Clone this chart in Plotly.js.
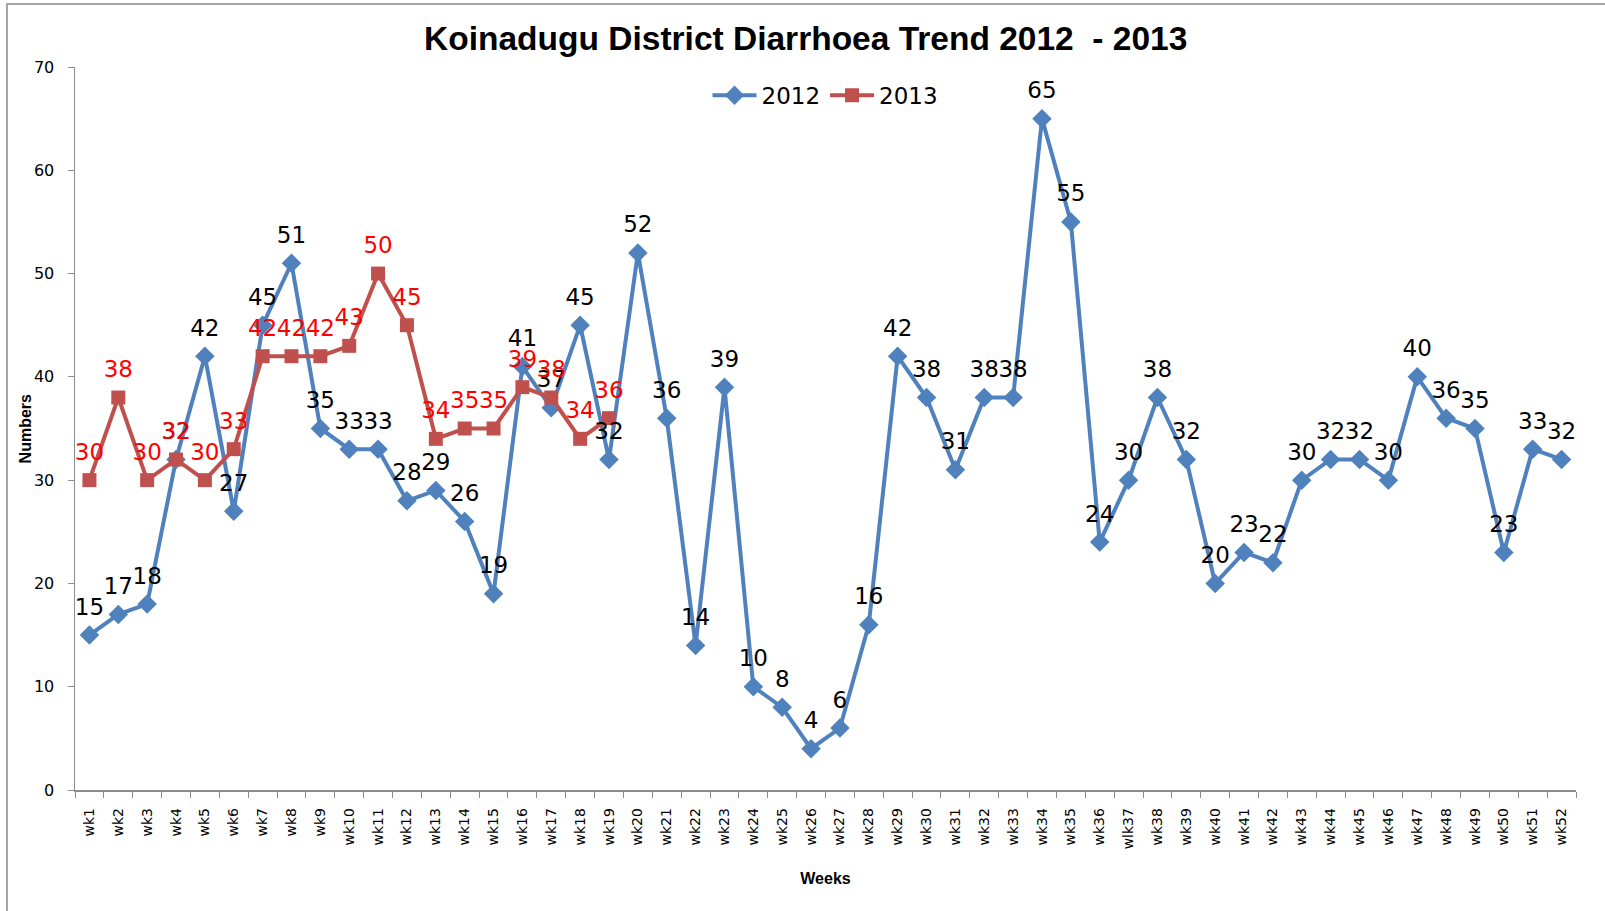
<!DOCTYPE html>
<html>
<head>
<meta charset="utf-8">
<script src="https://cdn.plot.ly/plotly-3.0.1.min.js"></script>
<style>
  html, body { margin: 0; padding: 0; overflow: hidden; background: #fff; }
  #wrap { position: relative; width: 1605px; height: 911px; }
  #frame { position: absolute; left: 6px; top: 3px; width: 1700px; height: 1000px; border: 2px solid #a6a6a6; pointer-events: none; }
  #chart { position: absolute; left: 0; top: 0; width: 1605px; height: 911px; }
</style>
</head>
<body>
<div id="wrap">
  <div id="chart"></div>
  <div id="frame"></div>
</div>
<script>
const weeks = ["wk1","wk2","wk3","wk4","wk5","wk6","wk7","wk8","wk9","wk10",
  "wk11","wk12","wk13","wk14","wk15","wk16","wk17","wk18","wk19","wk20",
  "wk21","wk22","wk23","wk24","wk25","wk26","wk27","wk28","wk29","wk30",
  "wk31","wk32","wk33","wk34","wk35","wk36","wlk37","wk38","wk39","wk40",
  "wk41","wk42","wk43","wk44","wk45","wk46","wk47","wk48","wk49","wk50",
  "wk51","wk52"];

const cases2012 = [15,17,18,32,42,27,45,51,35,33,
  33,28,29,26,19,41,37,45,32,52,
  36,14,39,10,8,4,6,16,42,38,
  31,38,38,65,55,24,30,38,32,20,
  23,22,30,32,32,30,40,36,35,23,
  33,32];

const weeks2013 = weeks.slice(0, 19);
const cases2013 = [30,38,30,32,30,33,42,42,42,43,
  50,45,34,35,35,39,38,34,36];

const yTicks = [0,10,20,30,40,50,60,70];

const labelFont = "DejaVu Sans, Verdana, sans-serif";
const boldFont = "Liberation Sans, Arial, sans-serif";

const traces = [
  {
    name: "2012",
    x: weeks, y: cases2012,
    type: "scatter", mode: "lines+markers",
    line: {color: "#4F81BD", width: 4},
    marker: {symbol: "diamond", size: 15, color: "#4F81BD"},
    cliponaxis: false
  },
  {
    name: "2013",
    x: weeks2013, y: cases2013,
    type: "scatter", mode: "lines+markers",
    line: {color: "#C0504D", width: 4},
    marker: {symbol: "square", size: 14, color: "#C0504D"},
    cliponaxis: false
  },
  {
    name: "2012 labels",
    x: weeks, y: cases2012,
    type: "scatter", mode: "markers+text",
    text: cases2012.map(String),
    textposition: "top center",
    textfont: {family: labelFont, size: 23, color: "#000000"},
    marker: {size: 22, color: "rgba(0,0,0,0)"},
    showlegend: false,
    cliponaxis: false
  },
  {
    name: "2013 labels",
    x: weeks2013, y: cases2013,
    type: "scatter", mode: "markers+text",
    text: cases2013.map(String),
    textposition: "top center",
    textfont: {family: labelFont, size: 23, color: "#FF0000"},
    marker: {size: 22, color: "rgba(0,0,0,0)"},
    showlegend: false,
    cliponaxis: false
  }
];

const layout = {
  width: 1605, height: 911,
  margin: {l: 75, r: 29, t: 67, b: 121, pad: 0},
  paper_bgcolor: "#ffffff",
  plot_bgcolor: "#ffffff",
  showlegend: true,
  title: {
    text: "<b>Koinadugu District Diarrhoea Trend 2012  - 2013</b>",
    font: {family: boldFont, size: 33.5, color: "#000000"},
    x: 0.502, xref: "container", xanchor: "center",
    y: 0.958, yref: "container", yanchor: "middle"
  },
  legend: {
    orientation: "h",
    x: 0.5, xanchor: "center",
    y: 0.961, yanchor: "middle",
    font: {family: labelFont, size: 23, color: "#000000"},
    bgcolor: "rgba(0,0,0,0)",
    itemwidth: 44,
    traceorder: "normal"
  },
  xaxis: {
    type: "category",
    range: [-0.5, 51.5],
    showgrid: false,
    zeroline: false,
    showline: true,
    linecolor: "#8c8c8c",
    linewidth: 1.5,
    ticks: "outside",
    tickson: "boundaries",
    ticklen: 6,
    tickcolor: "#8c8c8c",
    tickwidth: 1,
    tickangle: -90,
    ticklabelstandoff: 11,
    tickfont: {family: labelFont, size: 14, color: "#000000"},
    title: {
      text: "<b>Weeks</b>",
      font: {family: boldFont, size: 16, color: "#000000"},
      standoff: 24
    },
    fixedrange: true
  },
  yaxis: {
    range: [0, 70],
    tickvals: yTicks,
    ticktext: yTicks.map(String),
    showgrid: false,
    zeroline: false,
    showline: true,
    linecolor: "#8c8c8c",
    linewidth: 1.5,
    ticks: "outside",
    ticklen: 6,
    tickcolor: "#8c8c8c",
    tickwidth: 1,
    ticklabelstandoff: 10,
    tickfont: {family: labelFont, size: 16, color: "#000000"},
    fixedrange: true
  },
  annotations: [
    {
      text: "<b>Numbers</b>",
      xref: "paper", yref: "paper",
      x: -0.0327, y: 0.5,
      xanchor: "center", yanchor: "middle",
      textangle: -90,
      showarrow: false,
      font: {family: boldFont, size: 16, color: "#000000"}
    }
  ]
};

Plotly.newPlot("chart", traces, layout, {displayModeBar: false, staticPlot: true});
</script>
</body>
</html>
